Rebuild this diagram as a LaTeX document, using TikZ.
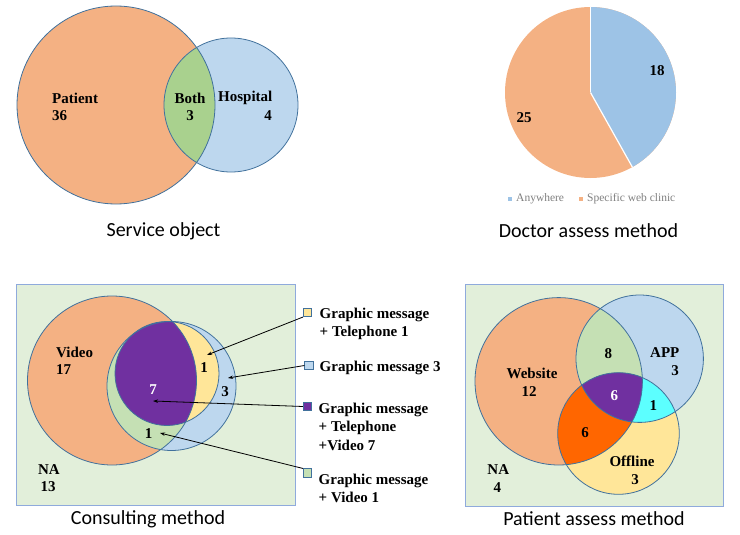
\documentclass[tikz,border=0pt]{standalone}
\usepackage{fontspec}
\setmainfont{Liberation Serif}
\newfontfamily\capfont{Carlito}
\usetikzlibrary{arrows.meta}
\definecolor{orangeF}{HTML}{F4B183}
\definecolor{blueF}{HTML}{BDD7EE}
\definecolor{greenF}{HTML}{A9D18E}
\definecolor{paleG}{HTML}{C5E0B4}
\definecolor{purpleF}{HTML}{7030A0}
\definecolor{yellowF}{HTML}{FFE699}
\definecolor{cyanF}{HTML}{5CFFFF}
\definecolor{darkO}{HTML}{FF6600}
\definecolor{bgG}{HTML}{E2EFDA}
\definecolor{edgeC}{HTML}{41719C}
\definecolor{boxC}{HTML}{8FAADC}
\definecolor{pieB}{HTML}{9DC3E6}
\definecolor{pieO}{HTML}{F4B183}
\definecolor{legC}{HTML}{7F7F7F}
\tikzset{
  lab/.style={font=\bfseries\fontsize{15}{18}\selectfont, inner sep=0pt},
  caption/.style={font=\capfont\fontsize{20}{24}\selectfont, inner sep=0pt},
  edge/.style={draw=edgeC, line width=0.8pt},
  panel/.style={draw=boxC, line width=1pt, fill=bgG},
  sq/.style={draw=edgeC, line width=0.6pt, minimum size=8.5pt, inner sep=0pt},
  pointer/.style={draw=black, line width=0.8pt, -{Stealth[length=5pt,width=3.5pt]}},
  leg/.style={font=\fontsize{11.5}{14}\selectfont, text=legC, inner sep=0pt},
  legsq/.style={minimum size=4.5pt, inner sep=0pt}
}
\begin{document}
\begin{tikzpicture}[x=1pt,y=-1pt]
\useasboundingbox (0,0) rectangle (740,535);

% ---------------- Service object ----------------
\fill[orangeF] (116,105) circle (99);
\fill[blueF] (231,105) circle (67);
\begin{scope}
  \clip (116,105) circle (99);
  \fill[greenF] (231,105) circle (67);
\end{scope}
\draw[edge] (116,105) circle (99);
\draw[edge] (231,105) circle (67);
\node[lab, anchor=west] (sp) at (52,98) {Patient};
\node[lab, anchor=west] (spn) at (52,116) {36};
\node[lab] (sb) at (190,98) {Both};
\node[lab] (sbn) at (190,116) {3};
\node[lab, anchor=west] (sh) at (218,98) {Hospital};
\node[lab, anchor=east] (shn) at (272,116) {4};
\node[caption] (cap1) at (163.5,231) {Service object};

% ---------------- Doctor assess method (pie) ----------------
\coordinate (pc) at (590.5,92.5);
\fill[pieO] (pc) circle (85.5);
\fill[pieB] (pc) -- ++(-90:85.5) arc[start angle=-90, end angle=60.7, radius=85.5] -- cycle;
\draw[white, line width=1.2pt] (pc) -- ++(-90:85.5);
\draw[white, line width=1.2pt] (pc) -- ++(60.7:85.5);
\node[lab] (p18) at (657,71) {18};
\node[lab] (p25) at (524,118) {25};
\node[legsq, fill=pieB] (lgb) at (510,199) {};
\node[leg, anchor=west] (lgbt) at (516,199) {Anywhere};
\node[legsq, fill=pieO] (lgo) at (581,199) {};
\node[leg, anchor=west] (lgot) at (587,199) {Specific web clinic};
\node[caption] (cap2) at (588.5,231) {Doctor assess method};

% ---------------- Consulting method ----------------
\draw[panel] (16,284) rectangle (295,505);
\fill[orangeF] (112,380.5) circle (84.5);
\fill[blueF] (171.5,386) circle (64.5);
\begin{scope}
  \clip (112,380.5) circle (84.5);
  \fill[paleG] (171.5,386) circle (64.5);
\end{scope}
\fill[yellowF] (167,373.5) circle (52);
\begin{scope}
  \clip (112,380.5) circle (84.5);
  \fill[purpleF] (167,373.5) circle (52);
\end{scope}
\draw[edge] (112,380.5) circle (84.5);
\draw[edge] (171.5,386) circle (64.5);
\draw[edge] (167,373.5) circle (52);
\node[lab, anchor=west] (cv) at (56,352) {Video};
\node[lab, anchor=west] (cvn) at (56,370) {17};
\node[lab, text=white] (c7) at (153,390) {7};
\node[lab] (c1y) at (204,368) {1};
\node[lab] (c3) at (225,392) {3};
\node[lab] (c1g) at (148.5,434) {1};
\node[lab] (cna) at (49,470) {NA};
\node[lab] (cnan) at (48,487) {13};
\coordinate (t1) at (207,355);
\coordinate (t2) at (228,378);
\coordinate (t3) at (153,401);
\coordinate (t4) at (160,433);

\node[sq, fill=yellowF] (l1) at (307.5,312.5) {};
\node[sq, fill=blueF] (l2) at (309,365.5) {};
\node[sq, fill=purpleF] (l3) at (307.5,406.5) {};
\node[sq, fill=paleG] (l4) at (307.5,473) {};
\draw[pointer] (l1.south west) -- (t1);
\draw[pointer] (l2.west) -- (t2);
\draw[pointer] (l3.west) -- (t3);
\draw[pointer] (l4.north west) -- (t4);

\node[lab, anchor=base west] (g1a) at (319.5,318) {Graphic message};
\node[lab, anchor=base west] (g1b) at (319.5,336.7) {+ Telephone 1};
\node[lab, anchor=base west] (g2a) at (319.5,371.7) {Graphic message 3};
\node[lab, anchor=base west] (g3a) at (318.5,413.3) {Graphic message};
\node[lab, anchor=base west] (g3b) at (318.5,431.7) {+ Telephone};
\node[lab, anchor=base west] (g3c) at (318.5,450) {+Video 7};
\node[lab, anchor=base west] (g4a) at (318.5,484) {Graphic message};
\node[lab, anchor=base west] (g4b) at (318.5,502) {+ Video 1};
\node[caption] (cap3) at (148,519) {Consulting method};

% ---------------- Patient assess method ----------------
\draw[panel] (465,284) rectangle (723,506);
\def\W{(558.7,381.3) circle (83.7)}
\def\A{(639.7,358.7) circle (63.7)}
\def\O{(618.5,433.5) circle (60.8)}
\fill[orangeF] \W;
\fill[blueF] \A;
\fill[yellowF] \O;
\begin{scope}\clip \W; \fill[paleG] \A; \end{scope}
\begin{scope}\clip \W; \fill[darkO] \O; \end{scope}
\begin{scope}\clip \A; \fill[cyanF] \O; \end{scope}
\begin{scope}\clip \W; \clip \A; \fill[purpleF] \O; \end{scope}
\draw[edge] \W;
\draw[edge] \A;
\draw[edge] \O;
\node[lab] (p8) at (608.3,353.3) {8};
\node[lab, anchor=west] (papp) at (650,353) {APP};
\node[lab] (pappn) at (675,371) {3};
\node[lab] (pweb) at (532,373.3) {Website};
\node[lab] (pwebn) at (529,391.7) {12};
\node[lab, text=white] (p6a) at (614.3,396) {6};
\node[lab] (p1) at (653.3,405.7) {1};
\node[lab] (p6b) at (585,432.7) {6};
\node[lab] (poff) at (632,461.7) {Offline};
\node[lab] (poffn) at (635,480) {3};
\node[lab] (pna) at (498.3,469.3) {NA};
\node[lab] (pnan) at (497.3,487.3) {4};
\node[caption] (cap4) at (594,519) {Patient assess method};
\end{tikzpicture}
\end{document}
